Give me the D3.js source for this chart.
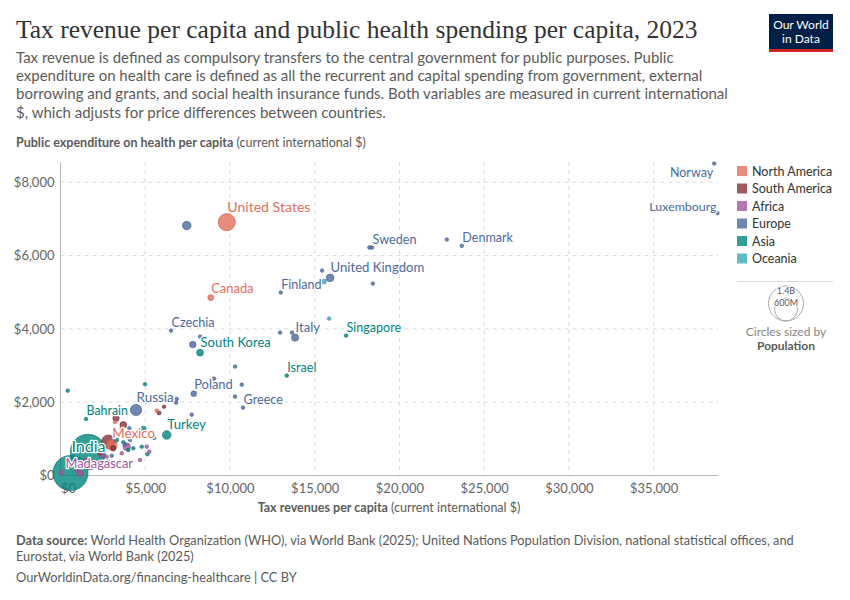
<!DOCTYPE html>
<html lang="en">
  <head>
    <meta charset="UTF-8" />
    <title>Tax revenue and public health spending per capita, 2023</title>
    <script src="https://d3js.org/d3.v7.min.js"></script>
    <style>
      body { margin: 0; background: #fff; }
      text { font-family: Lato, 'Noto Sans', sans-serif; }
    </style>
  </head>

  <body>
    <div id="graph"></div>
    <script>
      // data (tax revenue $, public health spending $, population in millions)
      const countries = [
        'Norway', 'Luxembourg', 'Denmark', 'Sweden', 'United Kingdom', 'United States', 'Canada', 'Finland',
        'Czechia', 'Italy', 'Singapore', 'South Korea', 'Israel', 'Poland', 'Greece', 'Russia', 'Bahrain',
        'Turkey', 'Mexico', 'India', 'Madagascar',
        'Germany', 'Iceland', 'Netherlands', 'Belgium', 'Austria', 'Australia', 'New Zealand', 'Portugal',
        'Slovenia', 'Spain', 'Malta', 'Estonia', 'Lithuania', 'Slovakia', 'Hungary', 'Croatia', 'Latvia',
        'Bulgaria', 'Serbia', 'North Macedonia', 'Albania', 'Moldova',
        'Kuwait', 'Qatar', 'Malaysia', 'Maldives', 'Armenia', 'Jordan', 'Mongolia', 'Kazakhstan', 'Georgia',
        'Lebanon', 'Nepal', 'Sri Lanka', 'Bhutan', 'Azerbaijan', 'China',
        'South Africa', 'Botswana', 'Mauritius', 'Kenya', 'Morocco', 'Tunisia', 'Namibia', 'Ghana', 'Ethiopia',
        'Uganda', 'Eswatini', 'Senegal', 'Zambia', 'Cabo Verde',
        'Argentina', 'Colombia', 'Chile', 'Uruguay', 'Peru', 'Ecuador', 'Brazil',
        'Costa Rica', 'Panama', 'Dominican Republic', 'Fiji'
      ]
      const continents = [
        'Europe', 'Europe', 'Europe', 'Europe', 'Europe', 'North America', 'North America', 'Europe',
        'Europe', 'Europe', 'Asia', 'Asia', 'Asia', 'Europe', 'Europe', 'Europe', 'Asia',
        'Asia', 'North America', 'Asia', 'Africa',
        'Europe', 'Europe', 'Europe', 'Europe', 'Europe', 'Oceania', 'Oceania', 'Europe',
        'Europe', 'Europe', 'Europe', 'Europe', 'Europe', 'Europe', 'Europe', 'Europe', 'Europe',
        'Europe', 'Europe', 'Europe', 'Europe', 'Europe',
        'Asia', 'Asia', 'Asia', 'Asia', 'Asia', 'Asia', 'Asia', 'Asia', 'Asia',
        'Asia', 'Asia', 'Asia', 'Asia', 'Asia', 'Asia',
        'Africa', 'Africa', 'Africa', 'Africa', 'Africa', 'Africa', 'Africa', 'Africa', 'Africa',
        'Africa', 'Africa', 'Africa', 'Africa', 'Africa',
        'South America', 'South America', 'South America', 'South America', 'South America', 'South America', 'South America',
        'North America', 'North America', 'North America', 'Oceania'
      ]
      const taxRevenue = [
        38575, 38770, 23683, 18388, 15909, 9811, 8866, 12998,
        6523, 13843, 16853, 8235, 13352, 7863, 10773, 4457, 1505,
        6269, 3022, 1623, 59,
        7450, 22797, 18240, 15437, 18430, 15555, 15849, 12957,
        13665, 7804, 8235, 10301, 9061, 10696, 10301, 6860, 6818,
        7745, 4061, 3807, 4103, 3022,
        4988, 425, 4888, 4297, 4793, 4002, 5124, 3317, 3707,
        4575, 2096, 2804, 5519, 2037, 590,
        3908, 5088, 5242, 2527, 2432, 2727, 3512, 561, 956,
        1151, 3613, 1741, 1446, 4693,
        3276, 3707, 5815, 6110, 3117, 2332, 2822,
        3613, 5679, 3217, 6405
      ]
      const healthSpending = [
        8509, 7155, 6263, 6217, 5390, 6910, 4852, 4989,
        3952, 3761, 3815, 3351, 2724, 2232, 1850, 1787, 1542,
        1105, 832, 641, 82,
        6817, 6435, 6217, 5589, 5234, 5289, 4279, 3897,
        3897, 3570, 3788, 2970, 2642, 2478, 2150, 2088, 1987,
        1659, 1288, 851, 969, 540,
        2489, 2314, 1269, 742, 786, 696, 579, 969, 906,
        1078, 259, 368, 1023, 860, 68,
        786, 786, 650, 742, 559, 513, 377, 287, 150,
        60, 606, 205, 423, 423,
        1561, 1378, 1706, 1877, 742, 606, 922,
        1288, 1768, 1460, 1515
      ]
      const population = [
        5.5, 0.67, 5.9, 10.5, 68, 335, 40, 5.6,
        10.9, 59, 5.9, 51.7, 9.8, 36.7, 10.4, 144, 1.5,
        85, 129, 1440, 31,
        84, 0.39, 17.9, 11.8, 9.1, 26.6, 5.2, 10.4,
        2.1, 48, 0.53, 1.37, 2.9, 5.4, 9.6, 3.9, 1.9,
        6.4, 6.6, 1.8, 2.8, 2.5,
        4.3, 2.7, 35, 0.5, 2.8, 11.3, 3.4, 20, 3.8,
        5.3, 30, 22, 0.8, 10, 1410,
        63, 2.6, 1.3, 12, 37, 12, 2.6, 34, 20,
        48, 1.2, 18, 20, 0.6,
        46, 52, 19.6, 3.4, 34, 18, 211,
        5, 4.5, 11, 0.9
      ]
      const labelled = [
        'Norway', 'Luxembourg', 'Denmark', 'Sweden', 'United Kingdom', 'United States', 'Canada', 'Finland',
        'Czechia', 'Italy', 'Singapore', 'South Korea', 'Israel', 'Poland', 'Greece', 'Russia', 'Bahrain',
        'Turkey', 'Mexico', 'India', 'Madagascar'
      ]
      const legendContinents = ['North America', 'South America', 'Africa', 'Europe', 'Asia', 'Oceania']
      const xTicks = [0, 5000, 10000, 15000, 20000, 25000, 30000, 35000]
      const yTicks = [0, 2000, 4000, 6000, 8000]

      const colors = {
        'North America': '#e56e5a',
        'South America': '#883039',
        Africa: '#a2559c',
        Europe: '#4c6a9c',
        Asia: '#00847e',
        Oceania: '#38aaba'
      }

      const points = countries.map((name, i) => ({
        name,
        continent: continents[i],
        tax: taxRevenue[i],
        health: healthSpending[i],
        pop: population[i] * 1e6
      }))

      const svg = d3.select('#graph').append('svg').attr('width', 850).attr('height', 600)

      // 比例尺
      const xScale = d3.scaleLinear().domain([0, 38800]).range([60.5, 718])
      const yScale = d3.scaleLinear().domain([0, 8550]).range([475.5, 162])
      const rScale = d3.scaleSqrt().domain([0, 1.4e9]).range([0, 17.5])
      const radius = (d) => Math.max(1.8, rScale(d.pop))
      const fontScale = d3.scaleSqrt().domain([0, 1.4e9]).range([12.3, 16])

      // header
      svg.append('text').attr('x', 16).attr('y', 38)
        .style('font-family', "'Liberation Serif', 'DejaVu Serif', serif")
        .attr('font-size', 25.5).attr('fill', '#333')
        .text('Tax revenue per capita and public health spending per capita, 2023')

      const subtitle = [
        'Tax revenue is defined as compulsory transfers to the central government for public purposes. Public',
        'expenditure on health care is defined as all the recurrent and capital spending from government, external',
        'borrowing and grants, and social health insurance funds. Both variables are measured in current international',
        '$, which adjusts for price differences between countries.'
      ]
      svg.append('g').selectAll('text').data(subtitle).join('text')
        .attr('x', 16).attr('y', (_, i) => 63 + i * 18.2)
        .attr('font-size', 15).attr('fill', '#5b5b5b')
        .text((d) => d)

      // logo
      const logo = svg.append('g')
      logo.append('rect').attr('x', 769).attr('y', 14).attr('width', 64).attr('height', 38).attr('fill', '#002147')
      logo.append('rect').attr('x', 769).attr('y', 49).attr('width', 64).attr('height', 3).attr('fill', '#ce261e')
      logo.selectAll('text.logo').data(['Our World', 'in Data']).join('text')
        .attr('x', 801).attr('y', (_, i) => 29 + i * 14)
        .attr('text-anchor', 'middle').attr('font-size', 12).attr('fill', '#fff')
        .text((d) => d)

      // y axis title
      const yTitle = svg.append('text').attr('x', 16).attr('y', 147).attr('font-size', 12.5).attr('fill', '#5b5b5b')
      yTitle.append('tspan').attr('font-weight', 700).text('Public expenditure on health per capita')
      yTitle.append('tspan').text(' (current international $)')

      // grid
      const grid = svg.append('g')
      grid.selectAll('line.gx').data(xTicks.slice(1)).join('line')
        .attr('x1', (d) => xScale(d)).attr('x2', (d) => xScale(d))
        .attr('y1', 162).attr('y2', yScale(0))
        .attr('stroke', '#ddd').attr('stroke-dasharray', '4,4')
      grid.selectAll('line.gy').data(yTicks.slice(1)).join('line')
        .attr('x1', xScale(0)).attr('x2', 718)
        .attr('y1', (d) => yScale(d)).attr('y2', (d) => yScale(d))
        .attr('stroke', '#ddd').attr('stroke-dasharray', '4,4')

      // 坐标轴
      const fmt = (d) => '$' + d3.format(',')(d)
      const yAxis = d3.axisLeft(yScale).tickValues(yTicks).tickFormat(fmt).tickSize(0).tickPadding(6)
      svg.append('g').attr('transform', `translate(${xScale(0)},0)`).call(yAxis)
        .call((g) => g.select('.domain').attr('stroke', '#bbb').attr('d', `M0,162V${yScale(0)}`))
        .call((g) => g.selectAll('text').attr('font-size', 13).attr('fill', '#666').style('font-family', 'Lato'))
      const xAxis = d3.axisBottom(xScale).tickValues(xTicks).tickFormat(fmt).tickSize(0).tickPadding(8)
      svg.append('g').attr('transform', `translate(0,${yScale(0)})`).call(xAxis)
        .call((g) => g.select('.domain').attr('stroke', '#bbb').attr('d', `M${xScale(0)},0H718`))
        .call((g) => g.selectAll('text').attr('font-size', 13).attr('fill', '#666').style('font-family', 'Lato'))
        .call((g) => g.selectAll('.tick').filter((d) => d === 0).select('text').attr('text-anchor', 'start'))

      const xTitle = svg.append('text').attr('x', 389).attr('y', 512).attr('text-anchor', 'middle')
        .attr('font-size', 12.5).attr('fill', '#5b5b5b')
      xTitle.append('tspan').attr('font-weight', 700).text('Tax revenues per capita')
      xTitle.append('tspan').text(' (current international $)')

      // points, biggest first
      svg.append('g').selectAll('circle')
        .data(points.slice().sort((a, b) => b.pop - a.pop))
        .join('circle')
        .attr('cx', (d) => xScale(d.tax))
        .attr('cy', (d) => yScale(d.health))
        .attr('r', radius)
        .attr('fill', (d) => colors[d.continent])
        .attr('fill-opacity', 0.8)
        .attr('stroke', (d) => d3.color(colors[d.continent]).darker(0.4))
        .attr('stroke-width', 0.6)

      // labels
      const labelPts = points.filter((d) => labelled.includes(d.name))
      svg.append('g').selectAll('text').data(labelPts).join('text')
        .attr('x', (d) => {
          const cx = xScale(d.tax)
          if (d.name === 'Norway' || d.name === 'Luxembourg') return cx - 1
          if (d.name === 'Madagascar') return cx + 4
          return cx + 0.5
        })
        .attr('y', (d) => {
          const cy = yScale(d.health)
          if (d.name === 'Norway') return cy + 13
          if (d.name === 'Luxembourg') return cy - 2
          if (d.name === 'India') return cy
          if (d.name === 'Madagascar') return cy - 4
          return cy - radius(d) - 2
        })
        .attr('text-anchor', (d) => (d.name === 'Norway' || d.name === 'Luxembourg' ? 'end' : d.name === 'India' ? 'middle' : 'start'))
        .attr('font-size', (d) => fontScale(d.pop))
        .attr('fill', (d) => colors[d.continent])
        .attr('stroke', '#fff').attr('stroke-width', 2.5).attr('stroke-linejoin', 'round')
        .attr('paint-order', 'stroke')
        .text((d) => d.name)

      // legend
      const legend = svg.append('g')
      legend.selectAll('rect').data(legendContinents).join('rect')
        .attr('x', 737).attr('y', (_, i) => 166 + i * 17.5)
        .attr('width', 10).attr('height', 10)
        .attr('fill', (d) => colors[d]).attr('fill-opacity', 0.8)
      legend.selectAll('text').data(legendContinents).join('text')
        .attr('x', 752).attr('y', (_, i) => 175.5 + i * 17.5)
        .attr('font-size', 12.5).attr('fill', '#333')
        .text((d) => d)
      legend.append('line').attr('x1', 737).attr('x2', 833).attr('y1', 281.5).attr('y2', 281.5).attr('stroke', '#ddd')

      // size legend
      const sizes = [{ v: 1.4e9, t: '1.4B' }, { v: 6e8, t: '600M' }]
      const sizeG = svg.append('g')
      sizeG.selectAll('circle').data(sizes).join('circle')
        .attr('cx', 786).attr('cy', (d) => 321 - rScale(d.v)).attr('r', (d) => rScale(d.v))
        .attr('fill', 'none').attr('stroke', '#aaa').attr('stroke-width', 1)
      sizeG.selectAll('text').data(sizes).join('text')
        .attr('x', 786).attr('y', (d) => 321 - 2 * rScale(d.v) + 8)
        .attr('text-anchor', 'middle').attr('font-size', 9).attr('fill', '#5b5b5b')
        .attr('stroke', '#fff').attr('stroke-width', 2).attr('paint-order', 'stroke')
        .text((d) => d.t)
      sizeG.append('text').attr('x', 786).attr('y', 336).attr('text-anchor', 'middle')
        .attr('font-size', 12).attr('fill', '#858585').text('Circles sized by')
      sizeG.append('text').attr('x', 786).attr('y', 350).attr('text-anchor', 'middle')
        .attr('font-size', 12).attr('font-weight', 700).attr('fill', '#5b5b5b').text('Population')

      // footer
      const src = svg.append('text').attr('x', 16).attr('y', 545).attr('font-size', 12.8).attr('fill', '#5b5b5b')
      src.append('tspan').attr('font-weight', 700).text('Data source:')
      src.append('tspan').text(' World Health Organization (WHO), via World Bank (2025); United Nations Population Division, national statistical offices, and')
      svg.append('text').attr('x', 16).attr('y', 561).attr('font-size', 12.8).attr('fill', '#5b5b5b')
        .text('Eurostat, via World Bank (2025)')
      svg.append('text').attr('x', 16).attr('y', 582).attr('font-size', 12.8).attr('fill', '#5b5b5b')
        .text('OurWorldinData.org/financing-healthcare | CC BY')
    </script>
  </body>
</html>
